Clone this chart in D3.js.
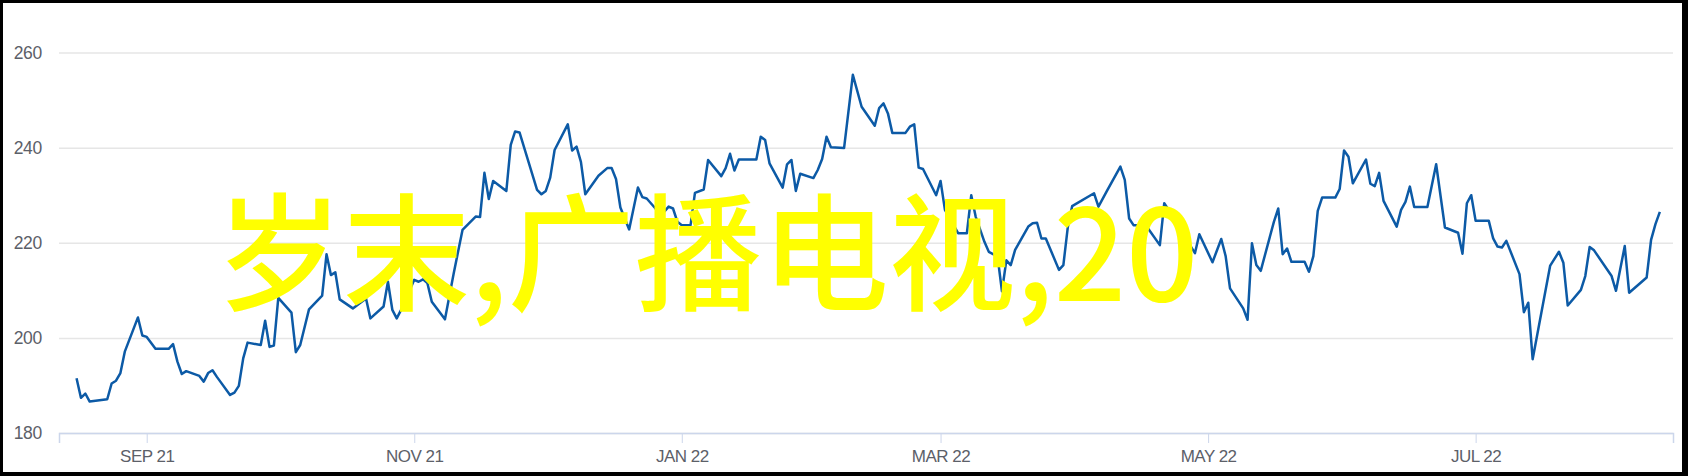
<!DOCTYPE html>
<html>
<head>
<meta charset="utf-8">
<script src="https://cdn.jsdelivr.net/npm/d3@7"></script>
<style>
  body { margin: 0; background: #000; }
  svg { display: block; }
</style>
</head>
<body>
<svg></svg>
<script>
// daily closes (only the turning points)
var dates = [
  "2021-08-16","2021-08-17","2021-08-18","2021-08-19","2021-08-23","2021-08-24","2021-08-25","2021-08-26","2021-08-27","2021-08-30",
  "2021-08-31","2021-09-01","2021-09-03","2021-09-06","2021-09-07","2021-09-08","2021-09-09","2021-09-10","2021-09-13","2021-09-14",
  "2021-09-15","2021-09-16","2021-09-17","2021-09-20","2021-09-21","2021-09-22","2021-09-23","2021-09-24","2021-09-27","2021-09-28",
  "2021-09-29","2021-09-30","2021-10-01","2021-10-04","2021-10-05","2021-10-06","2021-10-08","2021-10-11","2021-10-12","2021-10-13",
  "2021-10-14","2021-10-15","2021-10-18","2021-10-21","2021-10-22","2021-10-25","2021-10-26","2021-10-27","2021-10-28","2021-10-29",
  "2021-11-01","2021-11-02","2021-11-03","2021-11-04","2021-11-05","2021-11-08","2021-11-10","2021-11-12","2021-11-15","2021-11-16",
  "2021-11-17","2021-11-18","2021-11-19","2021-11-22","2021-11-23","2021-11-24","2021-11-25","2021-11-29","2021-11-30","2021-12-01",
  "2021-12-02","2021-12-03","2021-12-06","2021-12-07","2021-12-08","2021-12-09","2021-12-10","2021-12-13","2021-12-15","2021-12-16",
  "2021-12-17","2021-12-18","2021-12-20","2021-12-22","2021-12-23","2021-12-24","2021-12-26","2021-12-27","2021-12-29","2021-12-30",
  "2021-12-31","2022-01-01","2022-01-03","2022-01-04","2022-01-06","2022-01-07","2022-01-10","2022-01-11","2022-01-12","2022-01-13",
  "2022-01-14","2022-01-18","2022-01-19","2022-01-20","2022-01-21","2022-01-24","2022-01-25","2022-01-26","2022-01-27","2022-01-28",
  "2022-01-31","2022-02-01","2022-02-02","2022-02-03","2022-02-04","2022-02-07","2022-02-09","2022-02-11","2022-02-14","2022-02-15",
  "2022-02-16","2022-02-17","2022-02-18","2022-02-21","2022-02-22","2022-02-23","2022-02-24","2022-02-25","2022-02-28","2022-03-01",
  "2022-03-02","2022-03-05","2022-03-07","2022-03-08","2022-03-09","2022-03-11","2022-03-12","2022-03-14","2022-03-15","2022-03-16",
  "2022-03-17","2022-03-18","2022-03-21","2022-03-22","2022-03-23","2022-03-24","2022-03-25","2022-03-28","2022-03-29","2022-03-30",
  "2022-03-31","2022-04-05","2022-04-06","2022-04-08","2022-04-11","2022-04-12","2022-04-13","2022-04-14","2022-04-15","2022-04-17",
  "2022-04-20","2022-04-21","2022-04-22","2022-04-25","2022-04-28","2022-04-29","2022-05-02","2022-05-04","2022-05-05","2022-05-06",
  "2022-05-09","2022-05-10","2022-05-11","2022-05-12","2022-05-13","2022-05-16","2022-05-17","2022-05-18","2022-05-19","2022-05-20",
  "2022-05-23","2022-05-24","2022-05-25","2022-05-26","2022-05-27","2022-05-30","2022-05-31","2022-06-01","2022-06-02","2022-06-03",
  "2022-06-06","2022-06-07","2022-06-08","2022-06-09","2022-06-10","2022-06-13","2022-06-14","2022-06-15","2022-06-16","2022-06-17",
  "2022-06-20","2022-06-22","2022-06-24","2022-06-27","2022-06-28","2022-06-29","2022-06-30","2022-07-01","2022-07-04","2022-07-05",
  "2022-07-06","2022-07-07","2022-07-08","2022-07-11","2022-07-12","2022-07-13","2022-07-14","2022-07-18","2022-07-20","2022-07-21",
  "2022-07-22","2022-07-25","2022-07-26","2022-07-27","2022-07-28","2022-08-01","2022-08-02","2022-08-04","2022-08-05","2022-08-09",
  "2022-08-10","2022-08-11","2022-08-12"
];
var values = [
  191.5,187.4,188.3,186.6,187.1,190.4,191.0,192.6,197.1,204.3,
  200.5,200.2,197.7,197.7,198.7,195.0,192.4,193.0,192.0,190.8,
  192.6,193.2,191.8,188.0,188.5,189.9,195.7,199.0,198.5,203.6,
  198.1,198.4,208.4,205.3,197.0,198.5,206.0,208.9,217.6,213.2,
  213.8,208.1,206.2,208.3,204.1,206.6,211.8,205.9,204.1,205.9,
  212.2,211.8,212.3,211.5,207.6,203.9,213.6,222.7,225.5,225.4,
  234.7,229.2,233.0,230.9,240.6,243.4,243.2,231.1,230.2,230.9,
  233.7,239.5,244.9,239.4,240.2,237.0,230.2,234.1,235.7,235.7,
  233.4,227.4,222.8,231.6,229.6,229.3,227.2,225.5,227.6,227.2,
  224.4,223.7,223.7,230.5,231.2,237.4,234.0,235.7,238.7,235.2,
  237.5,237.5,242.3,241.6,236.7,231.6,236.5,237.4,230.9,234.5,
  233.6,235.3,237.6,242.3,240.1,239.9,255.3,248.6,244.6,248.3,
  249.3,247.2,243.1,243.1,244.4,244.9,235.8,235.5,230.0,233.0,
  226.9,222.0,222.0,230.0,225.5,220.2,218.1,217.1,209.8,216.3,
  215.3,218.5,223.4,224.1,224.2,220.9,220.9,214.3,215.3,223.2,
  227.7,230.4,227.6,231.0,236.0,233.2,225.1,223.7,223.7,223.4,
  219.5,228.3,226.9,222.3,217.8,221.8,215.9,220.8,217.2,210.4,
  206.2,203.8,219.9,215.3,214.1,224.4,227.2,217.6,218.8,216.0,
  216.0,213.9,217.2,226.7,229.5,229.5,231.3,239.4,238.1,232.5,
  237.5,232.4,231.9,234.7,228.8,223.4,226.9,228.6,231.8,227.5,
  227.5,236.5,223.2,222.1,217.7,228.3,230.0,224.6,224.6,220.9,
  219.2,219.0,220.4,213.4,205.4,207.4,195.5,215.2,218.1,215.8,
  206.8,210.1,213.0,219.1,218.4,213.0,209.9,219.3,209.5,212.7,
  220.6,223.9,226.5
];
var yTicks = [180, 200, 220, 240, 260];
var xTickDates = ["2021-09-01","2021-11-01","2022-01-01","2022-03-01","2022-05-01","2022-07-01"];
var xTickLabels = ["SEP 21","NOV 21","JAN 22","MAR 22","MAY 22","JUL 22"];
var xDomain = ["2021-08-12","2022-08-15"];
var overlayText = "岁末,广播电视,20";

var screen =
{
  width: 1688,
  height: 476
}
var plot =
{
  left: 59,
  right: 1673,
  top: 52.5,
  bottom: 433
}

var parse = d3.timeParse("%Y-%m-%d");
var data = dates.map(function(d, i)
{
  return { date: parse(d), value: values[i] };
});

var svg = d3.select("svg")
            .attr("width", screen.width)
            .attr("height", screen.height);

// black frame round a white card
svg.append("rect")
   .attr("width", screen.width)
   .attr("height", screen.height)
   .attr("fill", "#000");
svg.append("rect")
   .attr("x", 3)
   .attr("y", 3)
   .attr("width", 1679)
   .attr("height", 469)
   .attr("fill", "#fff");

var xscale = d3.scaleTime()
               .domain(xDomain.map(parse))
               .range([plot.left, plot.right]);
var yscale = d3.scaleLinear()
               .domain([180, 260])
               .range([plot.bottom, plot.top]);

// horizontal grid + y labels
var yAxis = d3.axisLeft(yscale)
              .tickValues(yTicks)
              .tickSize(-(plot.right - plot.left))
              .tickPadding(17)
              .tickFormat(d3.format("d"));
var gy = svg.append("g")
            .attr("transform", "translate(" + plot.left + ",0)")
            .call(yAxis);
gy.select(".domain").remove();
gy.selectAll(".tick line")
  .attr("stroke", "#e6e6e6")
  .attr("stroke-width", 1.5);
gy.selectAll(".tick text")
  .attr("fill", "#5c6068")
  .attr("font-family", "'Liberation Sans', Arial, sans-serif")
  .attr("font-size", 17.5)
  .attr("letter-spacing", -0.3);

// bottom axis
var xAxis = d3.axisBottom(xscale)
              .tickValues(xTickDates.map(parse))
              .tickSize(10)
              .tickPadding(7)
              .tickFormat(function(d, i) { return xTickLabels[i]; });
var gx = svg.append("g")
            .attr("transform", "translate(0," + plot.bottom + ")")
            .call(xAxis);
gx.select(".domain")
  .attr("stroke", "#ccd6eb")
  .attr("stroke-width", 1.5);
gx.selectAll(".tick line")
  .attr("stroke", "#ccd6eb");
gx.selectAll(".tick text")
  .attr("fill", "#5c6068")
  .attr("font-family", "'Liberation Sans', Arial, sans-serif")
  .attr("font-size", 17)
  .attr("letter-spacing", -0.5);

var line = d3.line()
             .x(function(d) { return xscale(d.date); })
             .y(function(d) { return yscale(d.value); });

svg.append("path")
   .datum(data)
   .attr("d", line)
   .attr("fill", "none")
   .attr("stroke", "#0c5aa6")
   .attr("stroke-width", 2.5)
   .attr("stroke-linejoin", "round");

// big yellow caption laid over the chart
svg.append("text")
   .attr("x", 216)
   .attr("y", 301)
   .attr("fill", "#ffff00")
   .attr("font-family", "'Noto Sans CJK SC', sans-serif")
   .attr("font-weight", 500)
   .attr("font-size", 127)
   .text(overlayText);
</script>
</body>
</html>
